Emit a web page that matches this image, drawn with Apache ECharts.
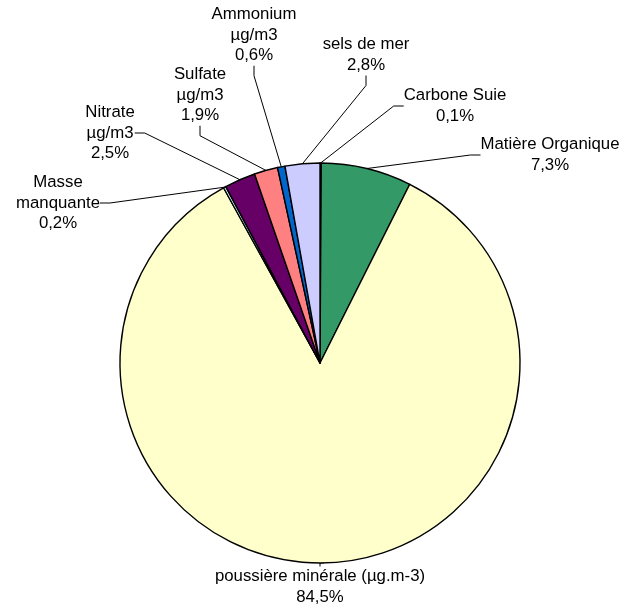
<!DOCTYPE html>
<html><head><meta charset="utf-8">
<script src="https://cdn.jsdelivr.net/npm/echarts@6/dist/echarts.min.js"></script>
<style>html,body{margin:0;padding:0;background:#fff}#c{width:622px;height:608px}</style>
</head><body><div id="c"></div>
<script>
const categories = ['Carbone Suie', 'Matière Organique', 'poussière minérale (µg.m-3)', 'Masse\nmanquante', 'Nitrate\nµg/m3', 'Sulfate\nµg/m3', 'Ammonium\nµg/m3', 'sels de mer'];
const values = [0.1, 7.3, 84.5, 0.2, 2.5, 1.9, 0.6, 2.8];
const colors = ['#9999FF', '#339966', '#FFFFCC', '#CCFFFF', '#660066', '#FF8080', '#0066CC', '#CCCCFF'];
const labelCenters = [[455,106],[550,155],[320,587],[58,203],[110,133],[200,95],[254,35],[366,55]];

const chart = echarts.init(document.getElementById('c'));
chart.setOption({
  animation: false,
  series: [{
    type: 'pie',
    center: [320, 363],
    radius: 200,
    startAngle: 90,
    clockwise: true,
    data: categories.map((n, i) => ({name: n, value: values[i], itemStyle: {color: colors[i]}})),
    itemStyle: {borderColor: '#000', borderWidth: 1.4},
    label: {
      show: true,
      position: 'outside',
      formatter: p => p.name + '\n' + p.value.toFixed(1).replace('.', ',') + '%',
      color: '#000',
      fontFamily: 'Liberation Sans, Arial, sans-serif',
      fontSize: 16.8,
      lineHeight: 20.5,
      align: 'center'
    },
    labelLine: {show: true, length: 10, length2: 10, lineStyle: {color: '#000', width: 1}},
    labelLayout: p => ({x: labelCenters[p.dataIndex][0], y: labelCenters[p.dataIndex][1], align: 'center', verticalAlign: 'middle'}),
    emphasis: {disabled: true}
  }]
});
</script></body></html>
